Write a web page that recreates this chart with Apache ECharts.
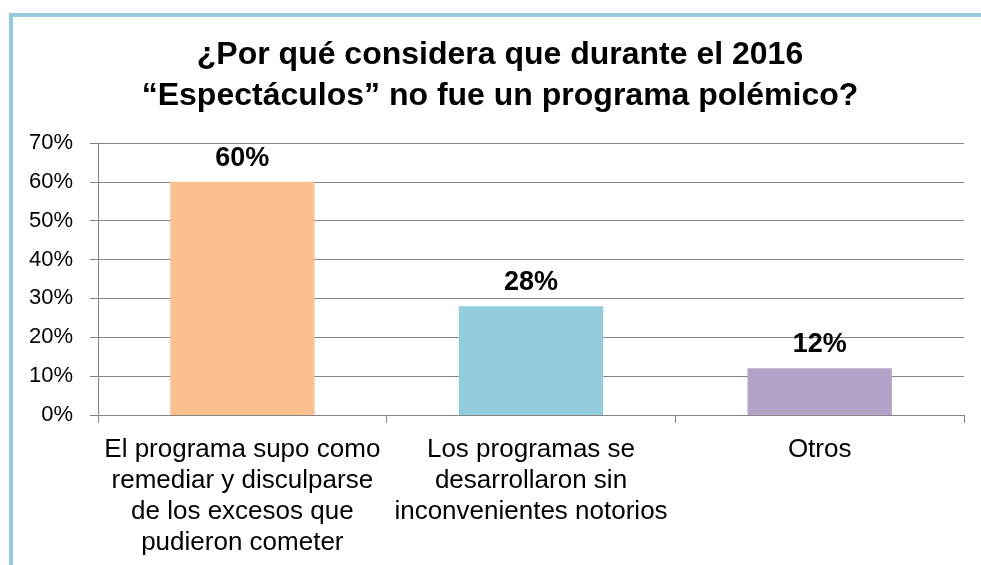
<!DOCTYPE html>
<html>
<head>
<meta charset="utf-8">
<script src="https://cdn.jsdelivr.net/npm/echarts@6/dist/echarts.min.js"></script>
<style>
  html, body { margin: 0; padding: 0; background: #fff; }
  #main { width: 981px; height: 565px; }
</style>
</head>
<body>
<div id="main"></div>
<script>
// datos del gráfico
var categorias = [
  "El programa supo como\nremediar y disculparse\nde los excesos que\npudieron cometer",
  "Los programas se\ndesarrollaron sin\ninconvenientes notorios",
  "Otros"
]
var valores = [60, 28, 12]
var colores = ["#FAC090", "#93CDDD", "#B3A2C7"]
var titulo = "¿Por qué considera que durante el 2016\n“Espectáculos” no fue un programa polémico?"

var myChart = echarts.init(document.getElementById('main'))

var option = {
  backgroundColor: "#fff",
  textStyle: { fontFamily: "Liberation Sans, Arial, sans-serif" },
  title: {
    text: titulo,
    left: 495,
    top: 30,
    textAlign: "center",
    textStyle: {
      fontFamily: "Liberation Sans, Arial, sans-serif",
      fontSize: 32,
      fontWeight: "bold",
      color: "#000",
      lineHeight: 41
    }
  },
  graphic: [{
    type: "rect",
    shape: { x: 11, y: 15, width: 1100, height: 700 },
    style: { fill: "none", stroke: "#93CDDD", lineWidth: 4 },
    silent: true
  }],
  grid: { left: 98, right: 17, top: 143, bottom: 150 },
  xAxis: {
    type: "category",
    data: categorias,
    axisLine: { lineStyle: { color: "#868686", width: 1 } },
    axisTick: { show: true, length: 8, lineStyle: { color: "#868686" } },
    axisLabel: {
      color: "#000",
      fontSize: 26,
      lineHeight: 31,
      margin: 19,
      interval: 0
    }
  },
  yAxis: {
    type: "value",
    min: 0,
    max: 70,
    interval: 10,
    axisLine: { show: true, lineStyle: { color: "#868686" } },
    axisTick: { show: true, length: 8, lineStyle: { color: "#868686" } },
    splitLine: { lineStyle: { color: "#868686", width: 1 } },
    axisLabel: {
      color: "#000",
      fontSize: 22,
      margin: 25,
      formatter: "{value}%"
    }
  },
  series: [{
    type: "bar",
    barWidth: "50%",
    data: valores.map(function (v, i) {
      return { value: v, itemStyle: { color: colores[i] } }
    }),
    label: {
      show: true,
      position: "top",
      distance: 10,
      color: "#000",
      fontSize: 27,
      fontWeight: "bold",
      formatter: "{c}%"
    }
  }]
}

myChart.setOption(option)
</script>
</body>
</html>
